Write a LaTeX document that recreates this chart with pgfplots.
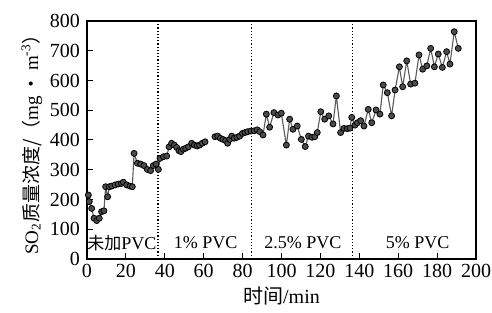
\documentclass[border=0pt]{standalone}
\usepackage{fontspec}
\setmainfont{Liberation Serif}
\newfontfamily\cjk{Noto Sans CJK SC}
\usepackage{pgfplots}
\pgfplotsset{compat=1.18}
\begin{document}
\begin{tikzpicture}
\begin{axis}[
  scale only axis, width=194.5pt, height=119pt,
  xmin=0, xmax=200, ymin=0, ymax=800,
  xtick={0,20,...,200}, ytick={0,100,...,800},
  xtick pos=bottom, ytick pos=left, tick align=inside,
  major tick length=3pt,
  tick style={black, line width=0.5pt},
  axis line style={black, line width=0.7pt},
  /pgf/number format/assume math mode=true,
  tick label style={font=\fontsize{10}{12}\selectfont},
  xticklabel style={yshift=1pt},
  xlabel={{\cjk 时间}/min},
  xlabel style={font=\fontsize{10}{12}\selectfont, yshift=2pt},
  ylabel={SO\textsubscript{2}{\cjk 质量浓度/（}mg\,{\cjk ·}\,m\textsuperscript{-3}{\cjk ）}},
  ylabel style={font=\fontsize{9.5}{11}\selectfont, yshift=-3pt},
  unbounded coords=jump,
  clip=false,
]
\addplot[black, densely dotted, line width=0.6pt] coordinates {(36.5,0) (36.5,800)};
\addplot[black, densely dotted, line width=0.6pt] coordinates {(84.7,0) (84.7,800)};
\addplot[black, densely dotted, line width=0.6pt] coordinates {(136.5,0) (136.5,800)};
\addplot[gray!70!black, line width=0.55pt, mark=*, mark size=1.5pt,
  mark options={fill=black!70, draw=black, line width=0.4pt}] coordinates {
(0.7,215)(1.2,193)(2.4,170)(3.6,137)(5,129)(6.3,137)(7.5,159)(8.7,162)(9.6,243)(10.6,209)
(11.5,243)(12.7,245)(14.4,249)(16.1,252)(17.8,254)(18.7,258)(20.4,249)(22.1,245)(23.3,243)
(24.2,355)(25.9,322)(27.6,319)(29.3,314)(31,301)(32.7,297)(34.1,314)(35.5,319)(36.7,301)
(37.5,338)(39.3,344)(41,346)(42.2,377)(43.5,389)(44.9,383)(46.1,375)(47.3,364)(48.3,361)
(49.5,369)(50.7,372)(52.1,377)(53.8,389)(55.2,383)(56.6,380)(57.9,383)(59.3,389)(60.7,394)
(63,nan)
(65.8,411)(67.2,413)(68.5,406)(69.9,402)(71.3,398)(72.3,389)(73.4,402)(74.4,413)(75.7,406)
(77.1,409)(78.5,413)(79.9,422)(81.2,425)(82.6,428)(84.3,430)(86,431)(87.5,434)(88.8,428)
(90.5,417)(92.2,487)(93.9,443)(96.1,492)(98.2,484)(99.9,490)(102.5,383)(104.2,470)(105.9,436)
(108.1,447)(110.2,402)(112.2,378)(113.9,413)(115.7,409)(117.1,411)(118.4,425)(120.2,495)
(122.2,470)(124.3,481)(126.5,454)(128.2,548)(130.4,425)(132.1,439)(133.8,438)(135.2,440)
(136.1,476)(137.8,450)(139,458)(140.7,465)(142.4,447)(144.6,503)(146.4,458)(148.6,501)
(150.6,487)(152.3,585)(154.4,559)(156.6,481)(158.4,568)(160.6,646)(162.3,579)(164.4,666)
(166.4,588)(168.6,591)(170.7,686)(172.6,638)(174.7,649)(176.7,708)(178.6,646)(180.6,689)
(182.7,644)(184.9,697)(186.6,655)(188.8,764)(190.9,708)
};
\node[font=\fontsize{9}{11}\selectfont] at (axis cs:17.9,55) {{\cjk\fontsize{8.5}{10}\selectfont 未加}PVC};
\node[font=\fontsize{9}{11}\selectfont] at (axis cs:61,55) {1\% PVC};
\node[font=\fontsize{9}{11}\selectfont] at (axis cs:111,55) {2.5\% PVC};
\node[font=\fontsize{9}{11}\selectfont] at (axis cs:170,55) {5\% PVC};
\end{axis}
\pgfresetboundingbox
\path ([xshift=-43.5pt,yshift=-27pt]current axis.south west) rectangle ([xshift=8pt,yshift=10.5pt]current axis.north east);
\end{tikzpicture}
\end{document}
